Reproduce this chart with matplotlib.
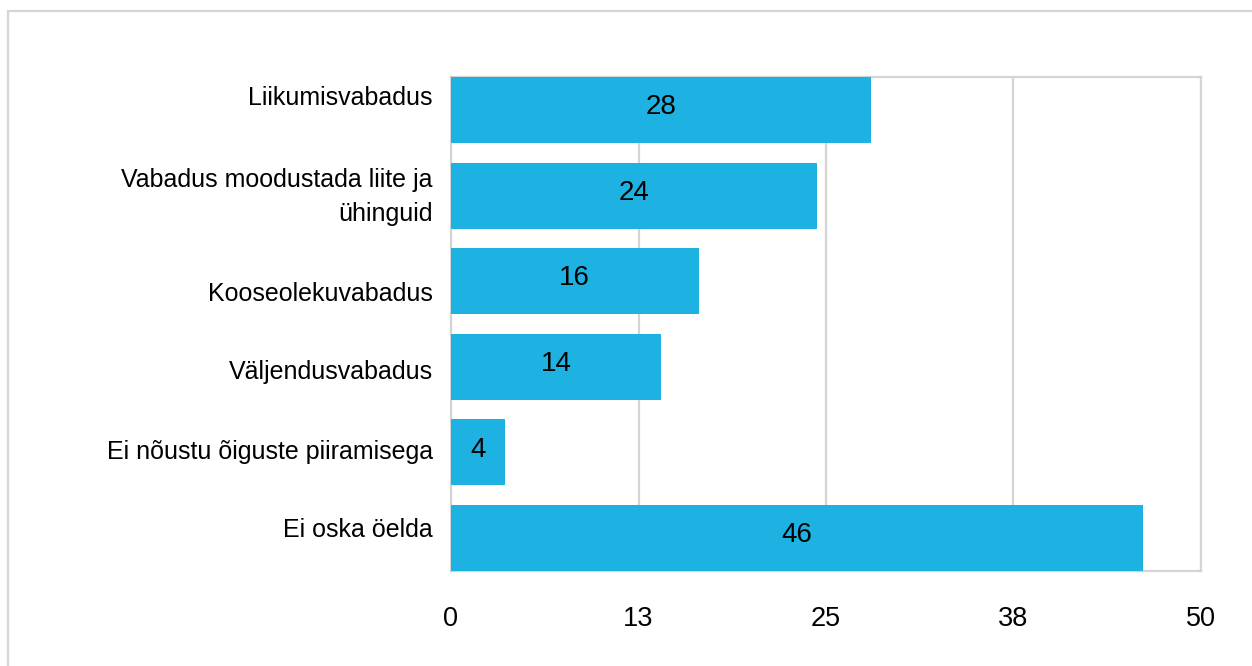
import numpy as np
import matplotlib.pyplot as plt
import matplotlib.transforms as mtransforms
from matplotlib.patches import Rectangle

categories = [
    "Liikumisvabadus",
    "Vabadus moodustada liite ja\nühinguid",
    "Kooseolekuvabadus",
    "Väljendusvabadus",
    "Ei nõustu õiguste piiramisega",
    "Ei oska öelda",
]
values = [28.0, 24.4, 16.5, 14.0, 3.6, 46.1]
x_ticks = [0, 12.5, 25, 37.5, 50]
x_tick_labels = ["0", "13", "25", "38", "50"]

BAR = "#1EB2E2"
GRID = "#D4D4D4"

plt.rcParams["font.family"] = ["Liberation Sans", "DejaVu Sans"]

fig = plt.figure(figsize=(12.52, 6.66), dpi=100, facecolor="white")
ax = fig.add_axes([451 / 1252, 1 - 571 / 666, 750 / 1252, 494 / 666])

y = np.arange(len(categories))
h = 0.77
ax.barh(y, values, height=h, color=BAR, zorder=3)
for yi, v in zip(y, values):
    t = ax.text(v / 2, yi, f"{v:.0f}", ha="center", va="center",
                fontsize=20, color="black", zorder=4)
    t.set_transform(t.get_transform() +
                    mtransforms.ScaledTranslation(0, 2 / 72, fig.dpi_scale_trans))

ax.set_xlim(0, 50)
ax.set_ylim(len(categories) - 1 + h / 2, -h / 2)
ax.set_xticks(x_ticks)
ax.set_xticklabels(x_tick_labels, fontsize=19.5)
ax.set_yticks(y)
ax.set_yticklabels(categories, fontsize=18, linespacing=1.55)
ax.tick_params(axis="both", length=0)
ax.tick_params(axis="x", pad=25)
ax.tick_params(axis="y", pad=13)
ax.grid(axis="x", color=GRID, linewidth=1.6, zorder=1)
for s in ax.spines.values():
    s.set_color(GRID)
    s.set_linewidth(1.6)

# the category labels in the original sit a little off the bar centres
label_shift_px = [-14.5, -6.5, 10, 3, -3, -11]
for lab, dy in zip(ax.get_yticklabels(), label_shift_px):
    lab.set_transform(lab.get_transform() +
                      mtransforms.ScaledTranslation(0, -dy / 100, fig.dpi_scale_trans))

# outer frame around the chart
fig.patches.append(Rectangle((7.5 / 1252, -0.1), 1.2, 1 - 11 / 666 + 0.1,
                             transform=fig.transFigure, fill=False,
                             edgecolor="#D6D6D6", linewidth=1.6))

fig.savefig("out.png", dpi=100, facecolor="white")
